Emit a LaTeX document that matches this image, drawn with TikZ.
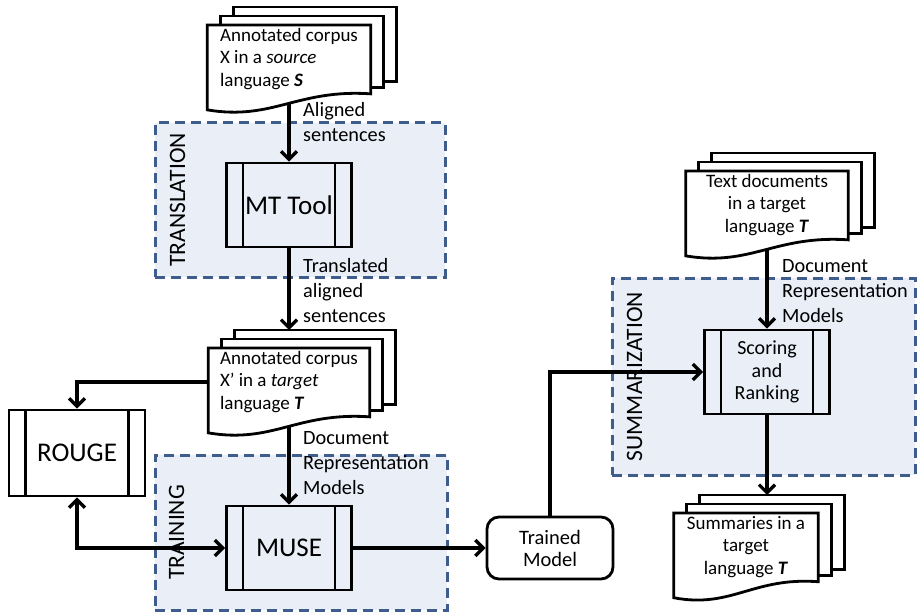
\documentclass[tikz,border=0pt]{standalone}
\usepackage{fontspec}
\setmainfont{Carlito}
\usetikzlibrary{positioning,arrows.meta,calc,backgrounds}
\definecolor{stageblue}{RGB}{62,92,140}
\definecolor{stagefill}{RGB}{233,238,247}
\tikzset{
  proc/.style    ={draw, line width=2.8pt, minimum width=125pt, minimum height=84pt,
                   align=center, font=\fontsize{20}{22.5}\selectfont,
                   path picture={\draw[line width=2.8pt]
                     ([xshift=16.5pt]path picture bounding box.north west) -- ([xshift=16.5pt]path picture bounding box.south west)
                     ([xshift=-16.5pt]path picture bounding box.north east) -- ([xshift=-16.5pt]path picture bounding box.south east);}},
  big/.style     ={proc, font=\fontsize{27}{30}\selectfont},
  model/.style   ={draw, rounded corners=12pt, line width=2.8pt, minimum width=126pt,
                   minimum height=62pt, align=center, font=\fontsize{20.5}{22}\selectfont},
  doc/.style     ={anchor=north, inner xsep=0pt, inner ysep=3pt, font=\fontsize{19}{22.5}\selectfont},
  page/.style    ={draw, line width=2.8pt, fill=white},
  stage/.style   ={draw=stageblue, fill=stagefill, dash pattern=on 10pt off 6pt, line width=3pt},
  stagelbl/.style={rotate=90, inner sep=0pt, font=\fontsize{23.5}{27}\selectfont},
  lbl/.style     ={anchor=west, inner sep=0pt, align=left, font=\fontsize{20.3}{25}\selectfont},
  fl/.style      ={-{Straight Barb[length=8pt,width=16pt]}, line width=3.3pt},
  bfl/.style     ={fl, {Straight Barb[length=8pt,width=16pt]}-{Straight Barb[length=8pt,width=16pt]}},
}
% stack of three pages with a wavy bottom; #2 = name, #3 = top centre of front page
\newcommand{\docstack}[4][]{%
  \node[doc,#1] (#2) at (#3) {#4};
  \begin{pgfonlayer}{background}
    \foreach \i in {2,1}
      \draw[page] ($(#2.north west)+(13*\i,-9*\i)$) rectangle ($(#2.south east)+(13*\i,1-6*\i)$);
    \draw[page] (#2.north west) -- (#2.north east) -- ($(#2.south east)+(0,1)$)
      .. controls ($(#2.south east)!0.45!(#2.south west)+(0,-4)$)
             and ($(#2.south east)!0.6!(#2.south west)+(0,28)$) .. ($(#2.south west)+(0,17)$) -- cycle;
  \end{pgfonlayer}
  \coordinate (#2-b) at ($(#2.south)+(0,10)$);
  \coordinate (#2-t) at ($(#2.north)+(0,-18)$);
}

\begin{document}
\begin{tikzpicture}[x=1pt, y=-1pt]
  \useasboundingbox (0,0) rectangle (917,612);

  % ---------------- stages -----------------
  \node[stage, minimum width=290pt, minimum height=154pt] (transl) at (300,200) {};
  \node[stage, minimum width=292pt, minimum height=155pt] (train)  at (301,532.5) {};
  \node[stage, minimum width=303pt, minimum height=197pt] (summ)   at (763.5,376.5) {};
  \node[stagelbl] (transl-l) at ([xshift=24pt]transl.west) {TRANSLATION};
  \node[stagelbl] (train-l)  at ([xshift=23pt]train.west)  {TRAINING};
  \node[stagelbl] (summ-l)   at ([xshift=24pt]summ.west)   {SUMMARIZATION};

  % ---------------- documents -----------------
  \docstack[align=left, minimum width=163pt]{corpS}{289,25}
    {Annotated corpus\\X in a \textit{source}\\language \textbf{\textit{S}}}
  \docstack[align=left, minimum width=161pt]{corpT}{289,348}
    {Annotated corpus\\X’ in a \textit{target}\\language \textbf{\textit{T}}}
  \docstack[align=center, minimum width=162pt]{textT}{767,171}
    {Text documents\\in a target\\language \textbf{\textit{T}}}
  \docstack[align=center, minimum width=144pt]{summT}{746,513}
    {Summaries in a\\target\\language \textbf{\textit{T}}}

  % ---------------- processes -----------------
  \node[big] (mt) at (289,205) {MT Tool};
  \node[big, minimum width=136pt, minimum height=86pt] (rouge) at (77,453) {ROUGE};
  \node[big] (muse) at (289,548) {MUSE};
  \node[proc] (rank) at (767,372) {Scoring\\and\\Ranking};
  \node[model] (trained) at (550,548) {Trained\\Model};

  % ---------------- flows -----------------
  \draw[fl] (corpS-b) -- (mt);
  \draw[fl] (mt) -- (mt |- corpT-t);
  \draw[fl] (corpT.west) -| (rouge);
  \draw[fl] (corpT-b) -- (muse);
  \draw[bfl] (rouge) |- (muse);
  \draw[fl] (muse) -- (trained);
  \draw[fl] (trained) |- (rank);
  \draw[fl] (textT-b) -- (rank);
  \draw[fl] (rank) -- (rank |- summT-t);

  % ---------------- flow labels -----------------
  \node[lbl] (lbl-align) at (303,122.5) {Aligned\\sentences};
  \node[lbl] (lbl-trans) at (303,291) {Translated\\aligned\\sentences};
  \node[lbl] (lbl-repr1) at (303,463) {Document\\Representation\\Models};
  \node[lbl] (lbl-repr2) at (782,291) {Document\\Representation\\Models};
\end{tikzpicture}
\end{document}
